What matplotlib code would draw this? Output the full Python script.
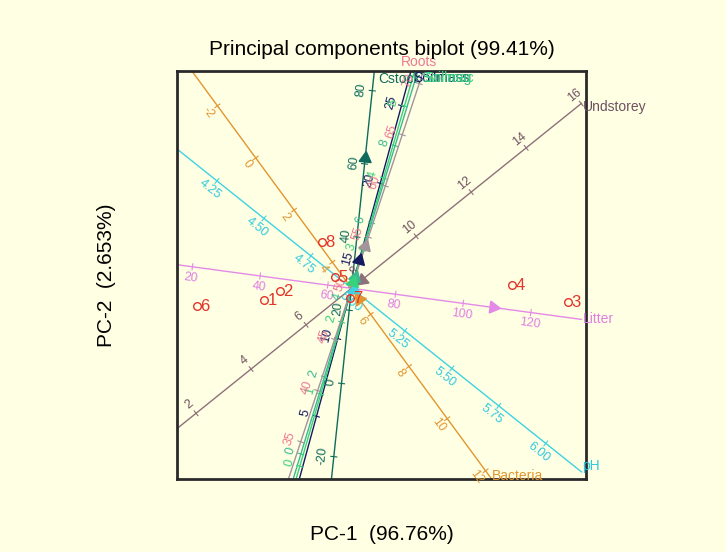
import numpy as np
import matplotlib.pyplot as plt

plt.rcParams['font.family'] = ['Liberation Sans', 'DejaVu Sans']

# sample scores (PC-1, PC-2), in plot units
samples = ['1', '2', '3', '4', '5', '6', '7', '8']
pc1 = [-88, -72, 216, 160, -17, -155, -2, -30]
pc2 = [-12, -3, -14, 3, 11, -18, -10, 46]

# calibrated variable axes
var_names = ['Litter', 'Undstorey', 'pH', 'Bacteria', 'Cstock',
             'Soilmass', 'Soilmag', 'Soilmac', 'Roots']
var_angle = [-7.7, 38.8, -38.6, -53.7, 84.0, 74.7, 73.0, 73.8, 71.7]
var_centre = [67.0, 7.65, 4.966, 5.0, 26.0, 13.24, 4.3, 2.47, 50.0]
var_unit = [3.415, 35.3, 240.4, 32.35, 3.68, 16.1, 40.3, 75.0, 10.78]
var_ticks = [
    [20, 40, 60, 80, 100, 120],
    [2, 4, 6, 8, 10, 12, 14, 16],
    [4.25, 4.50, 4.75, 5.00, 5.25, 5.50, 5.75, 6.00],
    [-2, 0, 2, 4, 6, 8, 10, 12],
    [-20, 0, 20, 40, 60, 80],
    [5, 10, 15, 20, 25],
    [0, 2, 4, 6, 8],
    [0, 1, 2, 3, 4, 5],
    [35, 40, 45, 50, 55, 60, 65, 70],
]
var_fmt = ['%g', '%g', '%.2f', '%g', '%g', '%g', '%g', '%g', '%g']
# where the arrow head sits along each axis, and whether it points back
arrow_at = [142.8, 13.1, 3.0, 12.9, 131.2, 29.5, 11.8, 6.3, 44.3]
arrow_back = [False, True, False, True, False, False, False, False, False]

# styling
line_col = ['#e48ae6', '#8e707b', '#3fd2e2', '#e29530', '#0f6b5c',
            '#151a60', '#3cb890', '#36d27c', '#a3939b']
text_col = ['#e07ee2', '#6e5060', '#2fc8e0', '#e29530', '#0f6b5c',
            '#151a60', '#3cb890', '#36d27c', '#ec7890']
label_side = [-1, 1, -1, -1, 1, 1, 1, 1, 1]
end_label_off = [(1, 0), (1, -4), (1, 6), (0, 3), (4, -8),
                 (2, -7), (3, -7), (10, -7), (-22, 9)]

bg = '#ffffe4'
x0, x1, y0, y1 = -174.5, 234.5, -190.7, 217.3

fig = plt.figure(figsize=(7.26, 5.52), dpi=100, facecolor=bg)
ax = fig.add_axes([177 / 726, 73 / 552, 409 / 726, 408 / 552], facecolor=bg)
ax.set_xlim(x0, x1)
ax.set_ylim(y0, y1)
ax.set_xticks([])
ax.set_yticks([])
for sp in ax.spines.values():
    sp.set_linewidth(2)
    sp.set_color('#2a2a2a')

for i, name in enumerate(var_names):
    th = np.deg2rad(var_angle[i])
    u = np.array([np.cos(th), np.sin(th)])
    n = np.array([-u[1], u[0]])
    # clip the axis to the frame (right side slightly inset)
    ts = []
    for lo, hi, c in [(x0, x1 - 4.5, u[0]), (y0, y1, u[1])]:
        if abs(c) > 1e-9:
            ts.append(sorted([lo / c, hi / c]))
    t_lo = max(a for a, b in ts)
    t_hi = min(b for a, b in ts)
    ax.plot([t_lo * u[0], t_hi * u[0]], [t_lo * u[1], t_hi * u[1]],
            color=line_col[i], lw=1, zorder=2)

    for v in var_ticks[i]:
        t = (v - var_centre[i]) * var_unit[i]
        p = t * u
        ax.plot([p[0] - 3 * n[0], p[0] + 3 * n[0]],
                [p[1] - 3 * n[1], p[1] + 3 * n[1]],
                color=line_col[i], lw=0.8, zorder=2)
        q = p + label_side[i] * 11 * n
        ax.text(q[0], q[1], var_fmt[i] % v, color=text_col[i], fontsize=9,
                rotation=var_angle[i], rotation_mode='anchor',
                ha='center', va='center', zorder=3)

    d = arrow_at[i] * u
    ang = var_angle[i] + (180 if arrow_back[i] else 0)
    ax.plot(d[0], d[1], marker=(3, 0, ang - 90), ms=10,
            color=line_col[i], mec=line_col[i], zorder=4)

    e = t_hi * u
    ox, oy = end_label_off[i]
    ax.text(e[0] + ox, e[1] + oy, name, color=text_col[i], fontsize=10,
            ha='left', va='center', zorder=5, clip_on=False)

ax.plot(pc1, pc2, 'o', ms=5.5, mfc='none', mec='#e3342a', mew=1, zorder=6)
for s, x, y in zip(samples, pc1, pc2):
    ax.text(x + 4, y, s, color='#e3342a', fontsize=12,
            ha='left', va='center', zorder=6)

fig.text(382 / 726, 1 - 49 / 552, 'Principal components biplot (99.41%)',
         fontsize=15, ha='center', va='center')
fig.text(382 / 726, 1 - 535 / 552, 'PC-1  (96.76%)',
         fontsize=15, ha='center', va='center')
fig.text(107 / 726, 1 - 275 / 552, 'PC-2  (2.653%)',
         fontsize=15, ha='center', va='center', rotation=90)

fig.savefig('out.png', dpi=100, facecolor=bg)
